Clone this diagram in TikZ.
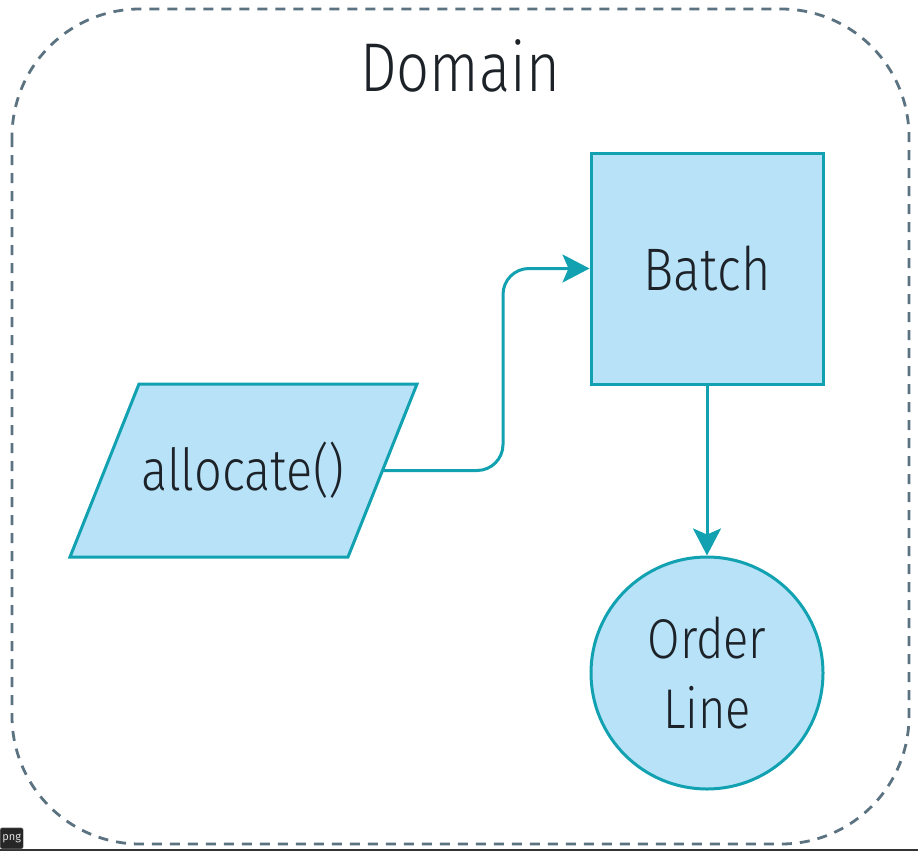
\documentclass[tikz,border=0pt]{standalone}
\usepackage{fontspec}
\IfFontExistsTF{Fira Sans Light}
  {\setmainfont{Fira Sans Light}[FakeStretch=0.84]}
  {\setmainfont{Fira Sans}[FakeStretch=0.84]}
\newfontfamily\labelfont{Fira Sans}
\usetikzlibrary{arrows.meta}
\definecolor{boxfill}{HTML}{B8E2F8}
\definecolor{boxline}{HTML}{11A1B1}
\definecolor{dashcol}{HTML}{5B7281}
\definecolor{txt}{HTML}{1C2228}
\tikzset{
  elem/.style={draw=boxline, fill=boxfill, line width=3pt, inner sep=0pt, text=txt},
  shapeline/.style={draw=boxline, fill=boxfill, line width=3pt, line join=miter},
  conn/.style={draw=boxline, line width=3pt, -{Stealth[length=27pt,width=28pt,inset=6pt]}},
  domainbox/.style={draw=dashcol, line width=2.8pt, dash pattern=on 10pt off 8pt, rounded corners=128pt},
}
\begin{document}
\begin{tikzpicture}[x=1pt,y=-1pt]
\useasboundingbox (0,0) rectangle (918,851);
\draw[domainbox] (12,9) rectangle (909,844);
\node[text=txt, font=\fontsize{69}{80}\selectfont, anchor=base] (domain) at (460,92) {Domain};
\node[elem, rectangle, minimum width=232pt, minimum height=231pt, font=\fontsize{60}{70}\selectfont] (batch) at (707,268.5) {Batch};
% parallelogram
\coordinate (p1) at (70,557);
\coordinate (p2) at (139,384);
\coordinate (p3) at (417,384);
\coordinate (p4) at (348,557);
\draw[shapeline] (p1) -- (p2) -- (p3) -- (p4) -- cycle;
\node[text=txt, inner sep=0pt, font=\fontsize{58}{70}\selectfont] (alloc) at (243,470.5) {allocate()};
\coordinate (allocright) at (382.5,470.5);
\node[elem, circle, minimum size=232pt, align=center, font=\fontsize{56}{70}\selectfont] (orderline) at (707,673) {Order\\Line};
\draw[conn, rounded corners=26pt] (allocright) -| (503,330) |- (batch.west);
\draw[conn] (batch.south) -- (orderline.north);
\draw[line width=2pt, draw=black!80] (0,849.5) -- (918,849.5);
\node[draw=black!45, fill=black!85, text=black!12, rounded corners=2pt, inner sep=0pt, minimum height=21pt, minimum width=23pt, font=\labelfont\fontsize{11}{12}\selectfont, anchor=south west] (pnglabel) at (0,849) {png};
\end{tikzpicture}
\end{document}
